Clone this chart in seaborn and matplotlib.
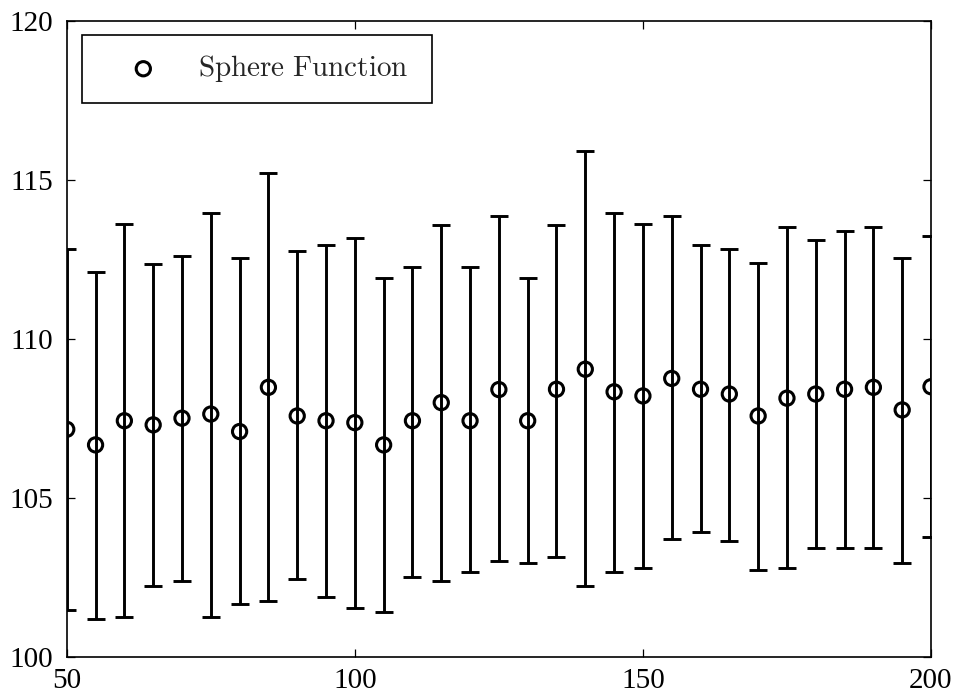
import numpy as np
import pandas as pd
import matplotlib
matplotlib.use("Agg")
import matplotlib.pyplot as plt
import seaborn as sns

# ---- data ----
x_vals = [50, 55, 60, 65, 70, 75, 80, 85, 90, 95, 100, 105, 110, 115, 120, 125,
          130, 135, 140, 145, 150, 155, 160, 165, 170, 175, 180, 185, 190, 195, 200]
mean_vals = [107.15, 106.66, 107.42, 107.29, 107.50, 107.63, 107.08, 108.47, 107.57,
             107.42, 107.36, 106.66, 107.42, 107.99, 107.42, 108.40,
             107.42, 108.41, 109.04, 108.33, 108.20, 108.75, 108.41, 108.26,
             107.57, 108.13, 108.26, 108.41, 108.47, 107.76, 108.49]
upper_vals = [112.81, 112.11, 113.60, 112.34, 112.61, 113.96, 112.53, 115.20, 112.76,
              112.95, 113.16, 111.90, 112.25, 113.58, 112.25, 113.86,
              111.92, 113.58, 115.90, 113.94, 113.60, 113.86, 112.95, 112.81,
              112.39, 113.50, 113.10, 113.39, 113.50, 112.55, 113.23]
lower_vals = [101.47, 101.18, 101.25, 102.23, 102.37, 101.25, 101.67, 101.74, 102.44,
              101.88, 101.53, 101.40, 102.51, 102.37, 102.65, 103.00,
              102.94, 103.14, 102.22, 102.65, 102.79, 103.70, 103.91, 103.63,
              102.73, 102.79, 103.42, 103.42, 103.42, 102.94, 103.77]
series_label = "Sphere Function"
x_ticks = [50, 100, 150, 200]
y_ticks = [100, 105, 110, 115, 120]

df = pd.DataFrame({"x": x_vals, "mean": mean_vals,
                   "upper": upper_vals, "lower": lower_vals})

sns.set_style("ticks")
plt.rcParams["font.family"] = ["Liberation Serif", "DejaVu Serif"]
plt.rcParams["mathtext.fontset"] = "cm"
plt.rcParams["xtick.direction"] = "in"
plt.rcParams["ytick.direction"] = "in"

fig = plt.figure(figsize=(9.59, 7.0), dpi=100)
ax = fig.add_axes([0.0696, 0.0619, 0.9012, 0.9085])

yerr = np.vstack([df["mean"] - df["lower"], df["upper"] - df["mean"]])
ax.errorbar(df["x"], df["mean"], yerr=yerr, fmt="none", ecolor="black",
            elinewidth=2.1, capsize=6.2, capthick=2.1, zorder=2)
sns.scatterplot(data=df, x="x", y="mean", ax=ax, marker="o", s=105,
                facecolors="none", edgecolor="black", linewidth=2.2,
                label=r"$\mathrm{" + series_label.replace(" ", r"\ ") + "}$",
                zorder=3, legend=False)

ax.set_xlim(50, 200)
ax.set_ylim(100, 120)
ax.set_xticks(x_ticks)
ax.set_yticks(y_ticks)
ax.set_xlabel("")
ax.set_ylabel("")
ax.tick_params(axis="both", which="both", direction="in", length=5.5, width=0.9,
               labelsize=21, top=True, right=True, colors="black")
ax.tick_params(axis="x", pad=8)
ax.tick_params(axis="y", pad=9.5)
for s in ax.spines.values():
    s.set_visible(True)
    s.set_linewidth(1.2)
    s.set_color("black")

handles, labels = ax.get_legend_handles_labels()
leg = ax.legend(handles, labels, loc="upper left",
                bbox_to_anchor=(0.0174, 0.9775, 0.405, 0.0), mode="expand",
                borderaxespad=0.0, fontsize=21, frameon=True, fancybox=False,
                edgecolor="black", framealpha=1.0, borderpad=0.63,
                handlelength=2.96, handletextpad=0.38, scatterpoints=1)
leg.get_frame().set_linewidth(1.2)

fig.savefig("out.png", dpi=100)
